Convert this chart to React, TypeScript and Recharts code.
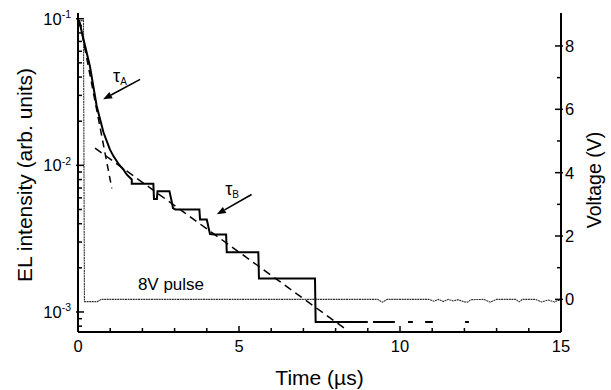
import React from "react";
import { LineChart, Line, XAxis, YAxis, ReferenceDot, ReferenceLine } from "recharts";

const FONT = '"Liberation Sans", Arial, Helvetica, sans-serif';

// measured EL decay (solid trace)
const elTime = [0.03, 0.37, 0.58, 0.79, 0.99, 1.1, 1.27, 1.41, 1.51, 1.67, 1.67, 2.34, 2.36, 2.45, 2.47, 2.84, 2.9, 2.95, 3.02, 3.77, 3.79, 4.0, 4.05, 4.1, 4.25, 4.6, 4.62, 5.6, 5.62, 7.36, 7.38, 9.0];
const elValue = [0.098, 0.0474, 0.0254, 0.0168, 0.01285, 0.01156, 0.01014, 0.00937, 0.00867, 0.00801, 0.00749, 0.00749, 0.0059, 0.0059, 0.00667, 0.00667, 0.0058, 0.0051, 0.005, 0.005, 0.00427, 0.00427, 0.0038, 0.0034, 0.00337, 0.00337, 0.00255, 0.00255, 0.00169, 0.00169, 0.000855, 0.000855];

// broken tail of the trace at the noise floor
const tailTime = [9.16, 9.84, 9.85, 10.25, 10.4, 10.41, 10.78, 11.02, 11.03, 12.02, 12.14];
const tailValue = [0.000855, 0.000855, null, 0.000855, 0.000855, null, 0.000855, 0.000855, null, 0.000855, 0.000855];

// exponential fits
const fitATime = [0.06, 1.05];
const fitAValue = [0.094, 0.00697];
const fitBTime = [0.53, 8.3];
const fitBValue = [0.0131, 0.000767];

// 8V driving pulse (right axis)
const voltTime = [0, 0.17, 0.2, 0.6, 0.72, 9.3, 9.45, 9.6, 10.9, 11.05, 11.2, 11.35, 11.5, 11.65, 11.8, 12.0, 12.1, 12.2, 12.6, 12.8, 13.0, 13.6, 13.7, 13.8, 14.2, 14.4, 14.6, 14.8, 15];
const voltValue = [8.8, 8.8, -0.07, -0.07, 0, 0, -0.09, 0, 0, -0.06, 0, -0.07, 0, -0.05, -0.01, -0.08, -0.09, -0.01, 0, -0.09, 0, 0, -0.08, 0, 0, -0.08, -0.02, -0.08, 0];

const xTicks = [0, 1, 2, 3, 4, 5, 6, 7, 8, 9, 10, 11, 12, 13, 14, 15];
const elTicks = [0.0008, 0.0009, 0.001, 0.002, 0.003, 0.004, 0.005, 0.006, 0.007, 0.008, 0.009, 0.01, 0.02, 0.03, 0.04, 0.05, 0.06, 0.07, 0.08, 0.09, 0.1];
const voltTicks = [0, 1, 2, 3, 4, 5, 6, 7, 8];

const toRows = (ts: number[], vs: (number | null)[]) => ts.map((t, i) => ({ t, v: vs[i] }));

const elData = toRows(elTime, elValue);
const tailData = toRows(tailTime, tailValue);
const fitAData = toRows(fitATime, fitAValue);
const fitBData = toRows(fitBTime, fitBValue);
const voltData = toRows(voltTime, voltValue);

const XTick = (props: any) => {
  const { x, y, payload } = props;
  const major = payload.value % 5 === 0;
  return (
    <g>
      <line x1={x} y1={y} x2={x} y2={y - (major ? 6 : 4)} stroke="#000" strokeWidth={1.5} />
      {major && (
        <text x={x} y={y + 20} textAnchor="middle" fontSize={16.5} fontFamily={FONT} fill="#000">
          {payload.value}
        </text>
      )}
    </g>
  );
};

const ElTick = (props: any) => {
  const { x, y, payload } = props;
  const lg = Math.log10(payload.value);
  const major = Math.abs(lg - Math.round(lg)) < 1e-6;
  return (
    <g>
      <line x1={major ? x - 2 : x} y1={y} x2={x + (major ? 6 : 4)} y2={y} stroke="#000" strokeWidth={1.5} />
      {major && (
        <text x={x - 7} y={y + 6} textAnchor="end" fontSize={16.5} fontFamily={FONT} fill="#000">
          10<tspan fontSize={10.5} dy={-6.5}>{String(Math.round(lg))}</tspan>
        </text>
      )}
    </g>
  );
};

const VoltTick = (props: any) => {
  const { x, y, payload } = props;
  const major = payload.value % 2 === 0;
  return (
    <g>
      <line x1={major ? x + 2 : x} y1={y} x2={x - (major ? 6 : 4)} y2={y} stroke="#000" strokeWidth={1.5} />
      {major && (
        <text x={x + 4} y={y + 6} textAnchor="start" fontSize={16.5} fontFamily={FONT} fill="#000">
          {payload.value}
        </text>
      )}
    </g>
  );
};

const Arrow = (props: any) => {
  const { x1, y1, x2, y2 } = props;
  const a = Math.atan2(y2 - y1, x2 - x1);
  const len = 9;
  const w = 3.5;
  const bx = x2 - len * Math.cos(a);
  const by = y2 - len * Math.sin(a);
  const px = -Math.sin(a) * w;
  const py = Math.cos(a) * w;
  return (
    <g>
      <line x1={x1} y1={y1} x2={bx} y2={by} stroke="#000" strokeWidth={1.6} />
      <polygon points={`${x2},${y2} ${bx + px},${by + py} ${bx - px},${by - py}`} fill="#000" />
    </g>
  );
};

const Tau = (sub: string) => (props: any) => (
  <text x={props.cx} y={props.cy} fontSize={18} fontFamily={FONT} fill="#000">
    τ<tspan fontSize={10} dy={3}>{sub}</tspan>
  </text>
);

const PulseText = (props: any) => (
  <text x={props.cx} y={props.cy} fontSize={17} fontFamily={FONT} fill="#000">
    8V pulse
  </text>
);

const XTitle = (props: any) => {
  const { x, y, width } = props.viewBox;
  return (
    <text x={x + width / 2} y={y + 53} textAnchor="middle" fontSize={21} fontFamily={FONT} fill="#000">
      Time (µs)
    </text>
  );
};

const LeftTitle = () => {
  const cx = 32;
  const cy = 175;
  return (
    <text x={cx} y={cy} transform={`rotate(-90 ${cx} ${cy})`} textAnchor="middle" fontSize={21} fontFamily={FONT} fill="#000">
      EL intensity (arb. units)
    </text>
  );
};

const RightTitle = () => {
  const cx = 601;
  const cy = 180;
  return (
    <text x={cx} y={cy} transform={`rotate(-90 ${cx} ${cy})`} textAnchor="middle" fontSize={19.5} fontFamily={FONT} fill="#000">
      Voltage (V)
    </text>
  );
};

const axisLine = { stroke: "#000", strokeWidth: 2 };

export default function App() {
  return (
    <div style={{ position: "absolute", left: 0, top: 0, background: "#fff" }}>
      <LineChart width={611} height={390} margin={{ top: 13, right: 0, bottom: 0, left: 0 }}>
        <XAxis
          xAxisId="b"
          dataKey="t"
          type="number"
          domain={[0, 15]}
          ticks={xTicks}
          interval={0}
          allowDataOverflow
          height={58}
          tickSize={0}
          tickMargin={0}
          tickLine={false}
          axisLine={axisLine}
          tick={<XTick />}
          label={<XTitle />}
        />
        <XAxis xAxisId="t" orientation="top" type="number" domain={[0, 15]} height={0} tick={false} tickLine={false} axisLine={axisLine} />
        <YAxis
          yAxisId="el"
          orientation="left"
          type="number"
          scale="log"
          domain={[0.00073, 0.1094]}
          allowDataOverflow
          ticks={elTicks}
          interval={0}
          width={78}
          tickSize={0}
          tickMargin={0}
          tickLine={false}
          axisLine={axisLine}
          tick={<ElTick />}
          label={<LeftTitle />}
        />
        <YAxis
          yAxisId="v"
          orientation="right"
          type="number"
          domain={[-1.03, 9.04]}
          allowDataOverflow
          ticks={voltTicks}
          interval={0}
          width={50}
          tickSize={0}
          tickMargin={0}
          tickLine={false}
          axisLine={axisLine}
          tick={<VoltTick />}
          label={<RightTitle />}
        />
        <Line xAxisId="b" yAxisId="v" data={voltData} dataKey="v" type="linear" dot={false} stroke="#333" strokeWidth={1.1} strokeDasharray="2 0.6" isAnimationActive={false} />
        <Line xAxisId="b" yAxisId="el" data={fitAData} dataKey="v" type="linear" dot={false} stroke="#000" strokeWidth={1.5} strokeDasharray="7 5" isAnimationActive={false} />
        <Line xAxisId="b" yAxisId="el" data={fitBData} dataKey="v" type="linear" dot={false} stroke="#000" strokeWidth={1.5} strokeDasharray="8 5" isAnimationActive={false} />
        <Line xAxisId="b" yAxisId="el" data={elData} dataKey="v" type="linear" dot={false} stroke="#000" strokeWidth={2} isAnimationActive={false} />
        <Line xAxisId="b" yAxisId="el" data={tailData} dataKey="v" type="linear" dot={false} stroke="#000" strokeWidth={2} connectNulls={false} isAnimationActive={false} />
        <ReferenceLine xAxisId="b" yAxisId="el" segment={[{ x: 1.93, y: 0.0386 }, { x: 0.78, y: 0.0282 }]} shape={<Arrow />} />
        <ReferenceLine xAxisId="b" yAxisId="el" segment={[{ x: 5.39, y: 0.00632 }, { x: 4.31, y: 0.00463 }]} shape={<Arrow />} />
        <ReferenceDot xAxisId="b" yAxisId="el" x={1.09} y={0.0368} r={0} shape={Tau("A")} />
        <ReferenceDot xAxisId="b" yAxisId="el" x={4.57} y={0.00632} r={0} shape={Tau("B")} />
        <ReferenceDot xAxisId="b" yAxisId="el" x={1.86} y={0.00142} r={0} shape={PulseText} />
      </LineChart>
    </div>
  );
}
